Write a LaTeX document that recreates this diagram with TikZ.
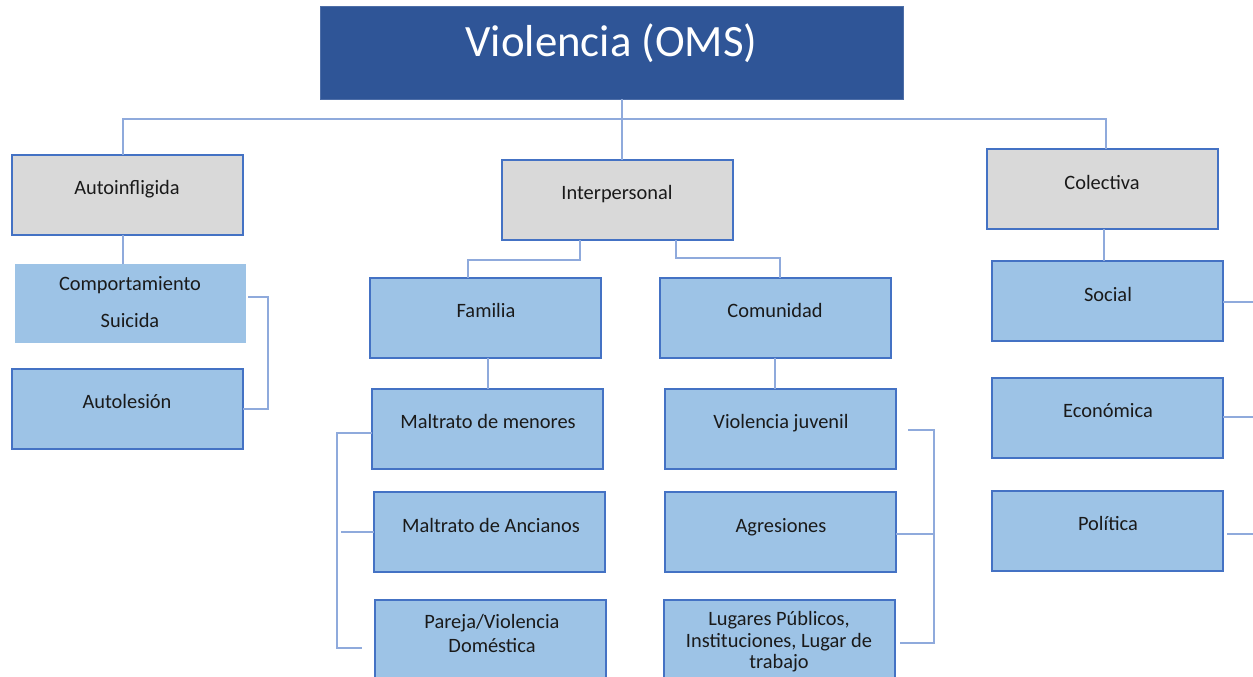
\documentclass[tikz,border=0pt]{standalone}
\usepackage{fontspec}
\setmainfont{Carlito}
\definecolor{titlefill}{HTML}{2F5597}
\definecolor{bord}{HTML}{4472C4}
\definecolor{grayfill}{HTML}{D9D9D9}
\definecolor{bluefill}{HTML}{9DC3E6}
\definecolor{connc}{HTML}{8FAADC}
\definecolor{txtc}{HTML}{1A1A1A}
\begin{document}
\begin{tikzpicture}[x=1pt,y=-1pt,
  boxg/.style={rectangle,draw=bord,fill=grayfill,line width=1.8pt,minimum width=231pt,minimum height=80pt,anchor=north west,inner sep=0pt,outer sep=0pt},
  boxb/.style={rectangle,draw=bord,fill=bluefill,line width=1.8pt,minimum width=231pt,minimum height=80pt,anchor=north west,inner sep=0pt,outer sep=0pt},
  txt/.style={anchor=base,inner sep=0pt,text=txtc,font=\fontsize{20.4}{24}\selectfont,align=center},
  conn/.style={draw=connc,line width=1.3pt}]
\useasboundingbox (0,0) rectangle (1253,677);
% title
\node[rectangle,fill=titlefill,draw=titlefill!85!white,line width=1pt,minimum width=583pt,minimum height=92pt,anchor=north west,inner sep=0pt,outer sep=0pt] (title) at (320,7) {};
\node[anchor=base,inner sep=0pt,text=white,font=\fontsize{44.8}{50}\selectfont] (titletxt) at (611.5,57) {Violencia (OMS)};
% level 1
\node[boxg] (auto) at (12,155) {};
\node[boxg] (inter) at (502,160) {};
\node[boxg] (col) at (987,149) {};
\node[txt] at (127,194) {Autoinfligida};
\node[txt] at (617,199) {Interpersonal};
\node[txt] at (1102,189) {Colectiva};
% autoinfligida children
\node[rectangle,fill=bluefill,minimum width=231pt,minimum height=79pt,anchor=north west,inner sep=0pt,outer sep=0pt] (comp) at (15,264) {};
\node[txt] at (130,290) {Comportamiento};
\node[txt] at (130,327) {Suicida};
\node[boxb] (autol) at (12,369) {};
\node[txt] at (127,408) {Autolesión};
% interpersonal children
\node[boxb] (fam) at (370,278) {};
\node[boxb] (com) at (660,278) {};
\node[txt] at (486,317) {Familia};
\node[txt] at (775,317) {Comunidad};
\node[boxb] (mm) at (372,389) {};
\node[boxb] (ma) at (374,492) {};
\node[boxb] (pd) at (375,600) {};
\node[txt] at (488,428) {Maltrato de menores};
\node[txt] at (491,532) {Maltrato de Ancianos};
\node[txt] at (492,628) {Pareja/Violencia};
\node[txt] at (492,652) {Doméstica};
\node[boxb] (vj) at (665,389) {};
\node[boxb] (ag) at (665,492) {};
\node[boxb] (lp) at (664,600) {};
\node[txt] at (781,428) {Violencia juvenil};
\node[txt] at (781,532) {Agresiones};
\node[txt] at (779,625) {Lugares Públicos,};
\node[txt] at (779,647) {Instituciones, Lugar de};
\node[txt] at (779,668) {trabajo};
% colectiva children
\node[boxb] (soc) at (992,261) {};
\node[boxb] (eco) at (992,378) {};
\node[boxb] (pol) at (992,491) {};
\node[txt] at (1108,301) {Social};
\node[txt] at (1108,417) {Económica};
\node[txt] at (1108,530) {Política};
% junction coordinates
\coordinate (j0) at (622,119);
\coordinate (jl) at (123,119);
\coordinate (jr) at (1106,119);
\coordinate (ja) at (580,260);
\coordinate (jb) at (468,260);
\coordinate (jc) at (676,258);
\coordinate (jd) at (780,258);
\coordinate (bl) at (268,297);
\coordinate (lb) at (337,433);
\coordinate (rb) at (934,430);
\coordinate (edge) at (1253,0);
% connectors
\draw[conn] (title.south -| j0) -- (inter.north -| j0);
\draw[conn] (auto.north -| jl) -- (jl) -- (jr) -- (col.north -| jr);
\draw[conn] (auto.south -| jl) -- (comp.north -| jl);
\draw[conn] (inter.south -| ja) -- (ja) -- (jb) -- (fam.north -| jb);
\draw[conn] (inter.south -| jc) -- (jc) -- (jd) -- (com.north -| jd);
\draw[conn] ([xshift=2pt]comp.east |- bl) -- (bl) -- (bl |- autol.east) -- (autol.east);
\draw[conn] (fam.south -| 488,0) -- (mm.north -| 488,0);
\draw[conn] (com.south -| 775,0) -- (vj.north -| 775,0);
\draw[conn] (mm.west |- lb) -- (lb) -- (337,648) -- (362,648);
\draw[conn] (341,532) -- (ma.west |- 0,532);
\draw[conn] (908,430) -- (rb) -- (934,643) -- (900,643);
\draw[conn] (ag.east |- 0,534) -- (934,534);
\draw[conn] (col.south -| 1104,0) -- (soc.north -| 1104,0);
\draw[conn] (soc.east |- 0,302) -- (edge |- 0,302);
\draw[conn] (eco.east |- 0,417) -- (edge |- 0,417);
\draw[conn] ([xshift=4pt]pol.east |- 0,534) -- (edge |- 0,534);
\end{tikzpicture}
\end{document}
